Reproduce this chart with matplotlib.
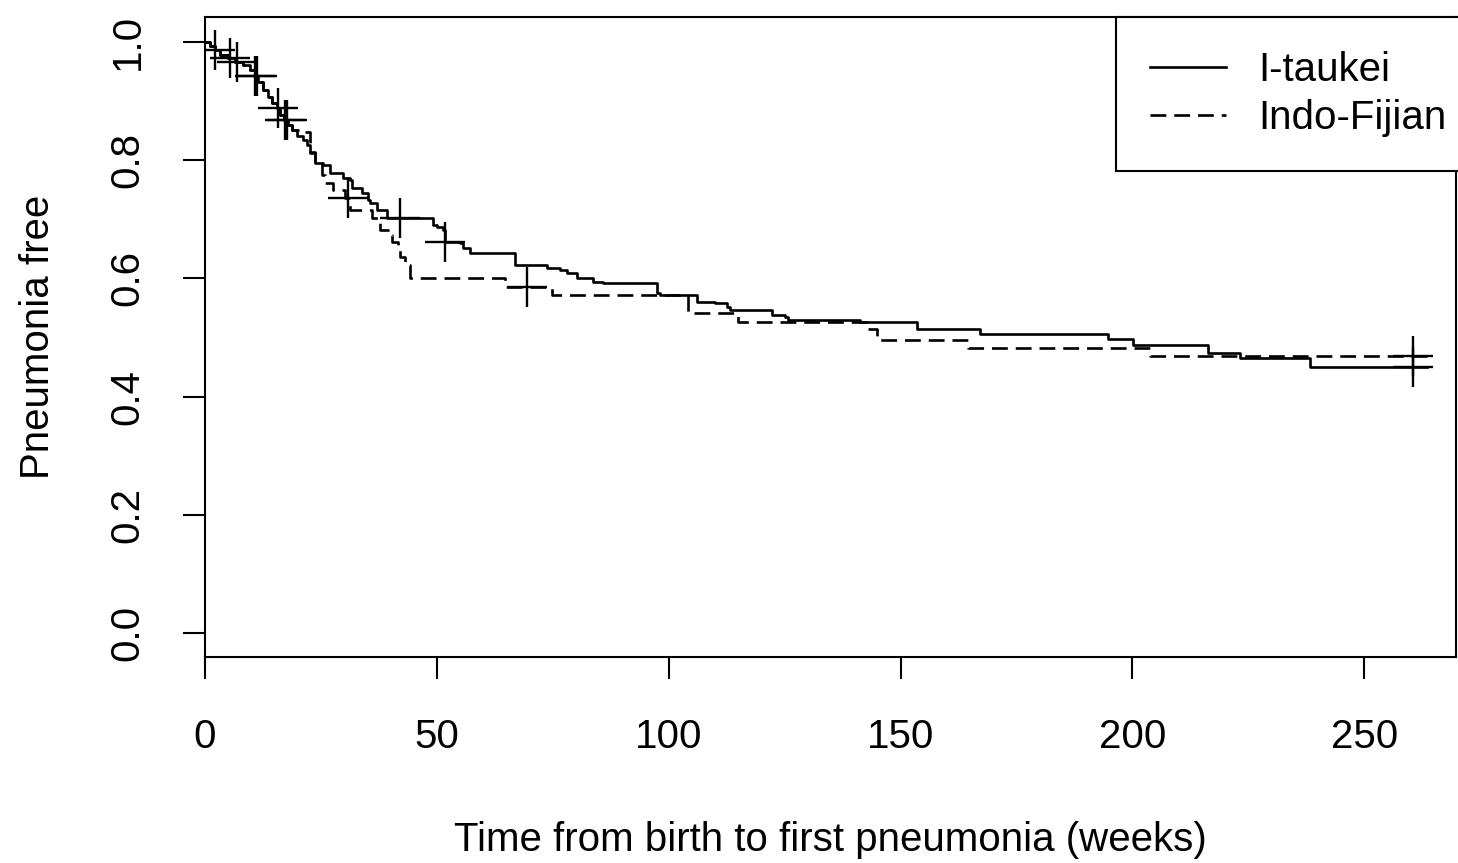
import matplotlib
matplotlib.use("Agg")
import matplotlib.pyplot as plt
from matplotlib import font_manager

# ---------- fonts (R-on-Windows look) ----------
names = {f.name for f in font_manager.fontManager.ttflist}
fam = [n for n in ["Liberation Sans Narrow", "Liberation Sans", "DejaVu Sans"] if n in names]
plt.rcParams["font.family"] = fam
FS = 31 if fam[0] == "Liberation Sans Narrow" else 29

# ---------- data (weeks, survival) ----------
early_t = [0, 1.1, 2.2, 3.2, 5.0, 6.5, 8.2, 9.7, 10.8, 11.4, 12.5, 13.6,
           14.5, 15.5, 16.2, 17.0, 17.9, 18.8]
early_s = [1.0, 0.993, 0.986, 0.978, 0.973, 0.966, 0.961, 0.953, 0.942,
           0.932, 0.919, 0.907, 0.897, 0.888, 0.876, 0.868, 0.860, 0.851]

itaukei_t = early_t + [19.8, 21.1, 22.0, 22.6, 23.7, 25.5, 27.0, 29.8, 31.3,
                       31.7, 33.9, 35.2, 35.6, 37.1, 39.3, 49.2, 50.0, 51.3,
                       51.8, 54.9, 55.7, 57.2, 66.9, 73.8, 76.6, 78.1, 80.2,
                       83.7, 85.9, 97.5, 98.1, 106.1, 110.0, 112.6, 113.2,
                       122.3, 125.1, 125.8, 141.3, 153.6, 167.2, 194.8,
                       200.2, 216.4, 223.3, 238.4]
itaukei_s = early_s + [0.841, 0.834, 0.826, 0.814, 0.795, 0.792, 0.778, 0.770,
                       0.766, 0.753, 0.745, 0.733, 0.728, 0.716, 0.702, 0.690,
                       0.687, 0.682, 0.662, 0.660, 0.651, 0.643, 0.623, 0.618,
                       0.614, 0.609, 0.601, 0.594, 0.592, 0.575, 0.572, 0.560,
                       0.558, 0.552, 0.547, 0.538, 0.535, 0.530, 0.526, 0.514,
                       0.506, 0.497, 0.487, 0.474, 0.465, 0.450]

indo_t = early_t + [20.5, 22.6, 23.7, 25.2, 25.9, 27.6, 30.2, 31.3, 36.0,
                    37.3, 37.7, 39.9, 40.3, 41.6, 42.1, 43.1, 43.8, 44.2,
                    64.7, 74.8, 104.2, 115.0, 142.8, 145.0, 164.6, 203.8]
indo_s = early_s + [0.848, 0.812, 0.795, 0.775, 0.761, 0.750, 0.736, 0.716,
                    0.702, 0.694, 0.682, 0.673, 0.662, 0.657, 0.636, 0.628,
                    0.623, 0.601, 0.586, 0.572, 0.541, 0.526, 0.514, 0.496,
                    0.482, 0.469]

t_end = 263.6

# censored observations
itaukei_cens_t = [2.2, 5.4, 6.9, 10.8, 15.7, 17.3, 42.1, 51.8, 260.6]
indo_cens_t = [11.2, 17.7, 30.8, 69.5, 260.6]

labels = ["I-taukei", "Indo-Fijian"]
xticks = [0, 50, 100, 150, 200, 250]
yticks = [0.0, 0.2, 0.4, 0.6, 0.8, 1.0]


def surv_at(ts, ss, x):
    v = ss[0]
    for a, b in zip(ts, ss):
        if a <= x:
            v = b
    return v


fig = plt.figure(figsize=(14.58, 8.63), dpi=100)
ax = fig.add_axes([205 / 1458, 1 - 657 / 863, 1251 / 1458, 640 / 863])

LW = 1.9
dash = (0, (6, 3))
h1, = ax.step(itaukei_t + [t_end], itaukei_s + [itaukei_s[-1]], where="post",
              color="black", lw=LW, label=labels[0])
h2, = ax.step(indo_t + [t_end], indo_s + [indo_s[-1]], where="post",
              color="black", lw=LW, ls=dash, label=labels[1])

ax.plot(itaukei_cens_t, [surv_at(itaukei_t, itaukei_s, x) for x in itaukei_cens_t],
        ls="none", marker="+", ms=29, mew=1.7, color="black")
ax.plot(indo_cens_t, [surv_at(indo_t, indo_s, x) for x in indo_cens_t],
        ls="none", marker="+", ms=29, mew=1.7, color="black")

ax.set_xlim(0, 269.8)
ax.set_ylim(-0.0406, 1.0423)
ax.set_xticks(xticks)
ax.set_xticklabels([str(v) for v in xticks])
ax.set_yticks(yticks)
ax.set_yticklabels(["%.1f" % v for v in yticks], rotation=90, va="center")
ax.tick_params(axis="x", direction="out", length=16, width=1.5,
               labelsize=FS, pad=28, color="black")
ax.tick_params(axis="y", direction="out", length=16, width=1.5,
               labelsize=FS, pad=26, color="black")
for sp in ax.spines.values():
    sp.set_linewidth(1.5)
    sp.set_color("black")

ax.set_xlabel("Time from birth to first pneumonia (weeks)", fontsize=FS, labelpad=47)
ax.set_ylabel("Pneumonia free", fontsize=FS, labelpad=37)

leg = ax.legend(handles=[h1, h2], loc="upper right", fontsize=FS,
                bbox_to_anchor=(1 + 25 / 1251, 1),
                frameon=True, fancybox=False, framealpha=1, edgecolor="black",
                borderaxespad=0, borderpad=0.85, handlelength=1.9,
                handletextpad=0.8, labelspacing=0.24)
leg.get_frame().set_linewidth(1.5)
leg.set_clip_on(False)

fig.savefig("out.png", dpi=100)
